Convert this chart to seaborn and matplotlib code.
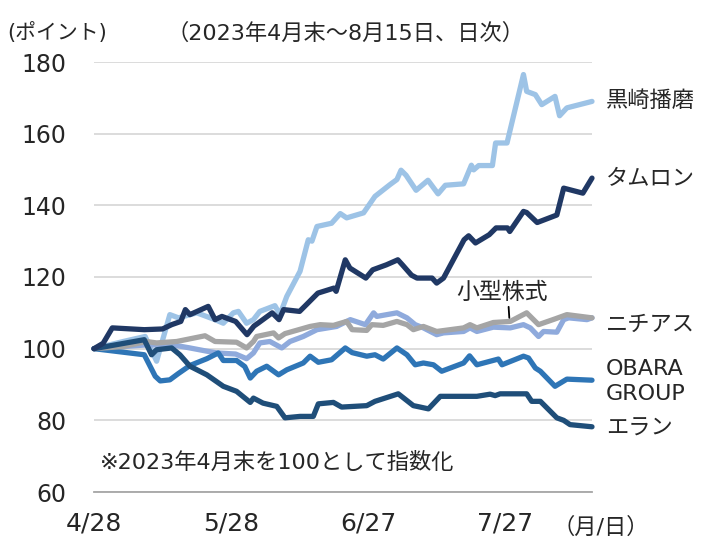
import pandas as pd
import matplotlib
matplotlib.use("Agg")
import matplotlib.pyplot as plt
import seaborn as sns

# index values (day offsets counted from 2023-04-28)
start = pd.Timestamp("2023-04-28")

kurosaki_days = [0, 6.4, 11.2, 13.7, 16.6, 18.5, 22.5, 26.5, 28.3, 30.5,
                 31.6, 33.4, 34.9, 36.3, 39.6, 40.7, 42.2, 45.1, 46.9, 47.7,
                 48.8, 52, 53.9, 55.3, 59, 61.5, 64.8, 66.3, 67.2, 68.3,
                 70.5, 73.1, 75.3, 76.9, 80.9, 82.6, 83.1, 84.2, 87.2, 87.9,
                 90.4, 94, 94.7, 96.6, 98, 100.9, 101.9, 103.5, 109]
kurosaki_vals = [100, 102, 103.4, 96.5, 109.5, 108.6, 110, 108.1, 107.1, 110,
                 110.4, 107.1, 108.1, 110.4, 112, 109.5, 114.6, 121.6, 130.4, 130,
                 134.1, 135, 137.7, 136.5, 137.9, 142.5, 145.8, 147.2, 149.8, 148.4,
                 144.2, 147, 143.2, 145.6, 146, 151.2, 149.9, 151.1, 151.1, 157.4,
                 157.4, 176.5, 171.8, 170.9, 168.1, 170.4, 165, 167.2, 169]

tamron_days = [0, 2, 4, 11, 15, 17, 19, 20, 21, 25,
               26.5, 28, 31, 33.5, 35, 36, 39, 40.5, 41.5, 45,
               46.5, 49, 52.5, 53, 55, 56, 59.5, 61, 64, 66.5,
               67.5, 69.5, 70.7, 74, 75, 76.5, 81, 82, 83.5, 86.5,
               88, 90.5, 91, 94, 94.7, 97, 101.3, 102.8, 107, 109]
tamron_vals = [100, 101.5, 105.8, 105.3, 105.5, 106.7, 107.6, 110.9, 109.5, 111.8,
               108.1, 109, 107.6, 103.9, 106.3, 107.2, 110, 108.1, 110.9, 110.4,
               112.3, 115.5, 116.9, 116, 124.8, 122.5, 119.7, 122, 123.4, 124.8,
               123.4, 120.5, 119.7, 119.7, 118.3, 119.7, 130.4, 131.5, 129.5, 131.8,
               133.7, 133.7, 132.7, 138.3, 138, 135.2, 137.3, 144.8, 143.4, 147.6]

smallcap_days = [0, 6.4, 11.5, 13.7, 18.1, 24.3, 26.5, 31.2, 33.4, 34.9,
                 35.6, 39.3, 40.4, 41.8, 47.3, 49.5, 52.4, 55.3, 56.5, 59.7,
                 60.8, 63.3, 66.3, 68.5, 69.9, 72.1, 75, 80.9, 82.3, 83.8,
                 87.4, 91.1, 94.7, 97.3, 100.9, 103.5, 109]
smallcap_vals = [100, 100.6, 102, 101.6, 102, 103.6, 102, 101.8, 100.2, 102,
                 103.4, 104.4, 103, 104.2, 106.2, 106.7, 106.5, 107.6, 105.3, 105.1,
                 106.7, 106.5, 107.6, 106.7, 105.3, 106.2, 104.8, 105.8, 106.7, 105.8,
                 107.3, 107.6, 110, 106.7, 108.3, 109.5, 108.6]

nichias_days = [0, 11, 17, 21, 24.7, 27, 31, 33.4, 34.9, 36.3,
                38.5, 41.1, 42.9, 45.8, 48.8, 53.1, 56.1, 59.4, 61.2, 61.9,
                66.3, 68.5, 70.3, 72.1, 75, 76.5, 80.9, 82.3, 83.8, 87.4,
                91.1, 94, 95.5, 97.3, 98.4, 101.3, 102.8, 103.9, 107.9, 109]
nichias_vals = [100, 101, 101.1, 100.2, 99.3, 98.8, 98.5, 97.2, 98.8, 101.6,
                102, 100.2, 102, 103.4, 105.3, 106.2, 108.1, 106.7, 110, 109,
                110, 108.6, 106.7, 105.8, 103.9, 104.4, 104.8, 105.8, 104.8, 106,
                105.8, 106.7, 105.8, 103.4, 104.8, 104.6, 108.1, 108.6, 108.1, 108.6]

obara_days = [0, 11, 13.4, 14.5, 16.6, 18.4, 21, 24.7, 27.2, 28.3,
              31.2, 33, 34.2, 35.6, 37.8, 40.4, 42.2, 45.8, 47.3, 49.1,
              52, 55, 56.5, 59.7, 61.5, 63.3, 66.3, 68.5, 70.3, 72.1,
              74.3, 76.1, 80.9, 82.2, 83.8, 88.5, 89.3, 94, 95.1, 96.6,
              97.7, 100.9, 103.5, 109]
obara_vals = [100, 98.3, 92.3, 91, 91.3, 93, 95.3, 97.2, 98.8, 96.7,
              96.7, 95, 91.8, 93.7, 95.1, 92.7, 94.1, 96, 97.9, 96.2,
              96.9, 100.2, 98.9, 97.9, 98.3, 97.1, 100.2, 98.3, 95.5, 96,
              95.5, 93.7, 96, 98, 95.5, 97.1, 95.5, 97.9, 97.4, 94.6,
              93.7, 89.5, 91.5, 91.2]

elan_days = [0, 11, 12.6, 13.7, 17, 18.8, 21, 24.7, 28.3, 31.2,
             34.2, 34.9, 37, 40, 41.8, 45.1, 48, 49.1, 52.4, 54.2,
             59.7, 61.5, 66.6, 69.9, 71.4, 73.2, 75.8, 83.8, 86.7, 87.8,
             88.9, 94.7, 95.8, 97.7, 101.3, 102.8, 104.2, 109]
elan_vals = [100, 102.5, 98.3, 99.7, 100.2, 98.3, 95.1, 92.7, 89.5, 88.1,
             85, 86.2, 84.8, 83.9, 80.7, 81.1, 81.1, 84.6, 85, 83.7,
             84.1, 85.3, 87.4, 84.1, 83.7, 83.2, 86.7, 86.7, 87.3, 86.9,
             87.4, 87.4, 85.3, 85.3, 80.7, 80, 78.8, 78.2]

series_names = ["黒崎播磨", "ニチアス", "OBARA GROUP", "小型株式", "エラン", "タムロン"]
series_days = [kurosaki_days, nichias_days, obara_days, smallcap_days, elan_days, tamron_days]
series_vals = [kurosaki_vals, nichias_vals, obara_vals, smallcap_vals, elan_vals, tamron_vals]
colors = ["#9DC3E6", "#8FAADC", "#2E75B6", "#A5A5A5", "#1F4E79", "#203864"]

tick_dates = ["2023-04-28", "2023-05-28", "2023-06-27", "2023-07-27"]
tick_labels = ["4/28", "5/28", "6/27", "7/27"]

# long-form table for seaborn
frames = []
for name, d, v in zip(series_names, series_days, series_vals):
    frames.append(pd.DataFrame({
        "date": start + pd.to_timedelta(d, unit="D"),
        "value": v,
        "series": name,
    }))
df = pd.concat(frames, ignore_index=True)

sns.set_style("white")
plt.rcParams["font.family"] = ["DejaVu Sans", "Noto Sans CJK JP"]

W, H = 701, 542
fig = plt.figure(figsize=(W / 100, H / 100), dpi=100)
ax = fig.add_axes([94 / W, 1 - 492 / H, (592 - 94) / W, (492 - 62) / H])

sns.lineplot(data=df, x="date", y="value", hue="series", hue_order=series_names,
             palette=colors, estimator=None, linewidth=3.8, legend=False, ax=ax)
for ln in ax.lines:
    ln.set_solid_capstyle("round")
    ln.set_solid_joinstyle("round")
    ln.set_clip_on(False)

ax.set_xlim(start, start + pd.Timedelta(days=109))
ax.set_ylim(60, 180)
ax.set_yticks(range(60, 181, 20))
ax.set_xticks(pd.to_datetime(tick_dates))
ax.set_xticklabels(tick_labels)
ax.set_xlabel("")
ax.set_ylabel("")

ax.yaxis.grid(True, color="#D9D9D9", linewidth=1.3)
ax.set_axisbelow(True)
for s in ["top", "left", "right"]:
    ax.spines[s].set_visible(False)
ax.spines["bottom"].set_color("#A6A6A6")
ax.spines["bottom"].set_linewidth(1.3)
ax.tick_params(axis="y", length=0, pad=20, labelsize=17)
ax.tick_params(axis="x", direction="in", length=7, width=1.2, color="#A6A6A6",
               pad=14, labelsize=18)

# texts around the plot
fig.text(7 / W, 1 - 33 / H, "(ポイント)", fontsize=15, va="center", ha="left")
fig.text(345 / W, 1 - 33 / H, "（2023年4月末～8月15日、日次）", fontsize=16,
         va="center", ha="center")
fig.text(601 / W, 1 - 527 / H, "（月/日）", fontsize=16, va="center", ha="center")
fig.text(100 / W, 1 - 462 / H, "※2023年4月末を100として指数化", fontsize=16,
         va="center", ha="left")

end_labels = ["黒崎播磨", "タムロン", "ニチアス", "OBARA", "GROUP", "エラン"]
end_label_y = [101, 179, 325, 369, 394, 429]
for lab, yy in zip(end_labels, end_label_y):
    fig.text(606 / W, 1 - yy / H, lab, fontsize=16, va="center", ha="left")

ax.annotate("小型株式", xy=(start + pd.Timedelta(days=90.9), 108.6),
            xytext=(start + pd.Timedelta(days=89.3), 115.8),
            fontsize=16.5, ha="center", va="center",
            arrowprops=dict(arrowstyle="-", color="black", lw=1.3,
                            shrinkA=0, shrinkB=0, relpos=(0.57, 0.0)))

fig.savefig("out.png", dpi=100)
